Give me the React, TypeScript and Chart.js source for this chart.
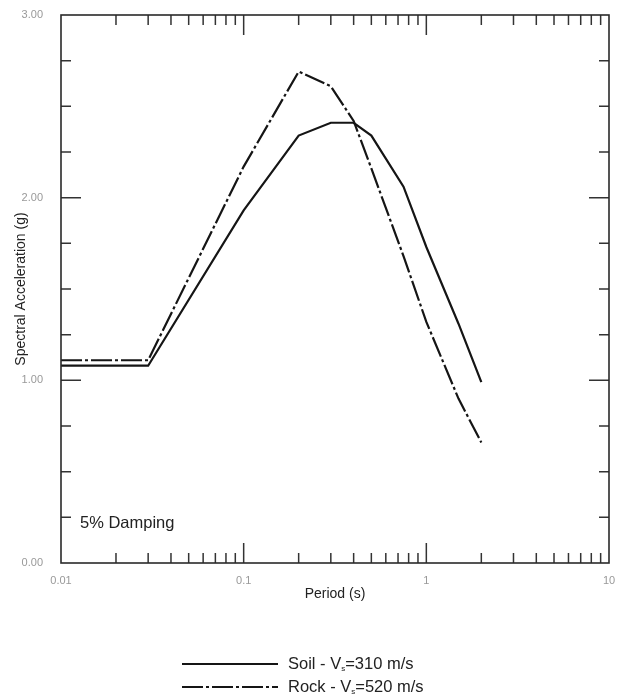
import React, { useEffect, useRef } from "react";
import { Chart, registerables } from "chart.js";

Chart.register(...registerables);

// ---- data ----
const periods = [0.01, 0.03, 0.1, 0.2, 0.3, 0.4, 0.5, 0.75, 1, 1.5, 2];
const soilSA = [1.08, 1.08, 1.93, 2.34, 2.41, 2.41, 2.34, 2.06, 1.73, 1.31, 0.99];
const rockSA = [1.11, 1.11, 2.17, 2.69, 2.61, 2.42, 2.16, 1.68, 1.32, 0.9, 0.66];

const xTickValues = [0.01, 0.1, 1, 10];
const xTickLabels = ["0.01", "0.1", "1", "10"];
const yTickValues = [0, 1, 2, 3];
const yTickLabels = ["0.00", "1.00", "2.00", "3.00"];
const yMinorStep = 0.25;

const seriesNames = ["Soil", "Rock"];
const seriesVs = ["310 m/s", "520 m/s"];
const annotationText = "5% Damping";

const FONT = "'Liberation Sans', Arial, sans-serif";
const INK = "#151515";

const inwardTicks = {
  id: "inwardTicks",
  afterDraw(chart: any) {
    const { ctx, chartArea } = chart;
    const xs = chart.scales.x;
    const ys = chart.scales.y;
    const { left, right, top, bottom } = chartArea;
    ctx.save();
    ctx.strokeStyle = "#333";
    ctx.lineWidth = 1.5;
    ctx.beginPath();
    for (let e = -2; e < 1; e++) {
      for (let k = 1; k <= 9; k++) {
        const v = k * Math.pow(10, e);
        if (k === 1 && e === -2) continue;
        const px = xs.getPixelForValue(v);
        const len = k === 1 ? 20 : 10;
        ctx.moveTo(px, bottom);
        ctx.lineTo(px, bottom - len);
        ctx.moveTo(px, top);
        ctx.lineTo(px, top + len);
      }
    }
    for (let v = yMinorStep; v < 3 - 1e-9; v += yMinorStep) {
      const py = ys.getPixelForValue(v);
      const major = Math.abs(v - Math.round(v)) < 1e-9;
      const len = major ? 20 : 10;
      ctx.moveTo(left, py);
      ctx.lineTo(left + len, py);
      ctx.moveTo(right, py);
      ctx.lineTo(right - len, py);
    }
    ctx.stroke();
    ctx.lineWidth = 1.6;
    ctx.strokeStyle = "#2a2a2a";
    ctx.strokeRect(left, top, right - left, bottom - top);
    ctx.restore();
  },
};

const annotationPlugin = {
  id: "damping",
  afterDraw(chart: any) {
    const { ctx, chartArea } = chart;
    ctx.save();
    ctx.font = `16.5px ${FONT}`;
    ctx.fillStyle = "#222";
    ctx.textBaseline = "middle";
    ctx.textAlign = "left";
    ctx.fillText(annotationText, chartArea.left + 19, chartArea.bottom - 40);
    ctx.restore();
  },
};

const legendPlugin = {
  id: "customLegend",
  afterDraw(chart: any) {
    const { ctx } = chart;
    const lineX0 = 182;
    const lineX1 = 278;
    const textX = 288;
    const rows = [664, 687];
    ctx.save();
    chart.data.datasets.forEach((ds: any, i: number) => {
      const y = rows[i];
      ctx.strokeStyle = ds.borderColor;
      ctx.lineWidth = ds.borderWidth;
      ctx.setLineDash(ds.borderDash || []);
      ctx.beginPath();
      ctx.moveTo(lineX0, y);
      ctx.lineTo(lineX1, y);
      ctx.stroke();
      ctx.setLineDash([]);
      ctx.fillStyle = "#222";
      ctx.textBaseline = "middle";
      ctx.textAlign = "left";
      ctx.font = `16.5px ${FONT}`;
      const pre = `${seriesNames[i]} - V`;
      ctx.fillText(pre, textX, y);
      let x = textX + ctx.measureText(pre).width;
      ctx.font = `8px ${FONT}`;
      ctx.fillText("s", x, y + 5);
      x += ctx.measureText("s").width;
      ctx.font = `16.5px ${FONT}`;
      ctx.fillText(`=${seriesVs[i]}`, x, y);
    });
    ctx.restore();
  },
};

export default function App() {
  const ref = useRef<HTMLCanvasElement | null>(null);
  useEffect(() => {
    if (!ref.current) return;
    const chart = new Chart(ref.current, {
      type: "line",
      data: {
        datasets: [
          {
            label: `${seriesNames[0]} - Vs=${seriesVs[0]}`,
            data: periods.map((p, i) => ({ x: p, y: soilSA[i] })),
            borderColor: INK,
            borderWidth: 2.2,
            pointRadius: 0,
            tension: 0,
            fill: false,
          },
          {
            label: `${seriesNames[1]} - Vs=${seriesVs[1]}`,
            data: periods.map((p, i) => ({ x: p, y: rockSA[i] })),
            borderColor: INK,
            borderWidth: 2.2,
            borderDash: [21, 3, 3, 3],
            pointRadius: 0,
            tension: 0,
            fill: false,
          },
        ],
      },
      options: {
        animation: false,
        responsive: false,
        maintainAspectRatio: false,
        layout: { padding: { left: 0, right: 12, top: 15, bottom: 0 } },
        plugins: {
          legend: { display: false },
          tooltip: { enabled: false },
        },
        scales: {
          x: {
            type: "logarithmic",
            min: 0.01,
            max: 10,
            grid: { display: false },
            border: { display: false },
            afterBuildTicks: (s: any) => {
              s.ticks = xTickValues.map((v) => ({ value: v }));
            },
            afterFit: (s: any) => {
              s.height = 135;
              s.paddingLeft = 0;
              s.paddingRight = 0;
            },
            ticks: {
              autoSkip: false,
              maxRotation: 0,
              padding: 3,
              color: "#999",
              font: { family: FONT, size: 11 },
              callback: (v: any) => {
                const i = xTickValues.findIndex((t) => Math.abs(t - Number(v)) < 1e-9);
                return i >= 0 ? xTickLabels[i] : "";
              },
            },
            title: {
              display: true,
              text: "Period (s)",
              color: "#222",
              font: { family: FONT, size: 14 },
              padding: { top: 0, bottom: 95 },
            },
          },
          y: {
            type: "linear",
            min: 0,
            max: 3,
            grid: { display: false },
            border: { display: false },
            afterBuildTicks: (s: any) => {
              s.ticks = yTickValues.map((v) => ({ value: v }));
            },
            afterFit: (s: any) => {
              s.width = 61;
              s.paddingTop = 0;
              s.paddingBottom = 0;
            },
            ticks: {
              autoSkip: false,
              padding: 10,
              color: "#999",
              font: { family: FONT, size: 11 },
              callback: (v: any) => {
                const i = yTickValues.findIndex((t) => Math.abs(t - Number(v)) < 1e-9);
                return i >= 0 ? yTickLabels[i] : "";
              },
            },
            title: {
              display: true,
              text: "Spectral Acceleration (g)",
              color: "#222",
              font: { family: FONT, size: 14 },
              padding: { top: 13, bottom: 0 },
            },
          },
        },
      },
      plugins: [inwardTicks, annotationPlugin, legendPlugin],
    });
    return () => chart.destroy();
  }, []);
  return (
    <div style={{ position: "fixed", left: 0, top: 0, width: 621, height: 698, background: "#fff" }}>
      <canvas ref={ref} width={621} height={698} style={{ display: "block" }} />
    </div>
  );
}
